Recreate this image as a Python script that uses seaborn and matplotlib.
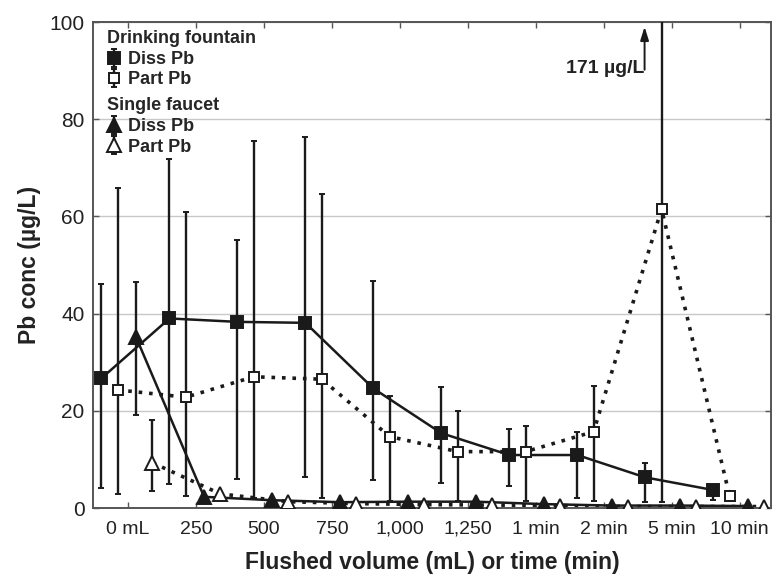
import numpy as np
import matplotlib
matplotlib.use("Agg")
import matplotlib.pyplot as plt
import seaborn as sns

# Flushing stages on the x axis
categories = ["0 mL", "250", "500", "750", "1,000", "1,250", "1 min", "2 min", "5 min", "10 min"]

# Drinking fountain, dissolved Pb (µg/L): mean, lower and upper bound
fountain_diss = [26.7, 39.0, 38.3, 38.1, 24.6, 15.4, 10.9, 10.9, 6.3, 3.7]
fountain_diss_lo = [4.2, 5.0, 6.0, 6.4, 5.8, 5.2, 4.5, 2.0, 1.3, 1.6]
fountain_diss_hi = [46.0, 71.8, 55.1, 76.3, 46.8, 25.0, 16.3, 15.7, 9.2, 4.6]

# Drinking fountain, particulate Pb (µg/L)
fountain_part = [24.3, 22.8, 27.0, 26.5, 14.7, 11.6, 11.6, 15.7, 61.5, 2.5]
fountain_part_lo = [2.9, 2.5, 2.0, 2.0, 1.5, 1.5, 1.5, 1.5, 1.3, 1.7]
fountain_part_hi = [65.8, 60.9, 75.5, 64.6, 23.1, 20.0, 16.9, 25.1, 171.0, 3.6]

# Single faucet, dissolved Pb (µg/L)
faucet_diss = [35.1, 2.3, 1.6, 1.2, 1.3, 1.3, 0.8, 0.5, 0.5, 0.4]
faucet_diss_lo = [19.1, 2.3, 1.6, 1.2, 1.3, 1.3, 0.8, 0.5, 0.5, 0.4]
faucet_diss_hi = [46.4, 2.3, 1.6, 1.2, 1.3, 1.3, 0.8, 0.5, 0.5, 0.4]

# Single faucet, particulate Pb (µg/L)
faucet_part = [9.3, 2.9, 1.3, 0.9, 0.7, 0.6, 0.5, 0.3, 0.3, 0.3]
faucet_part_lo = [3.4, 2.9, 1.3, 0.9, 0.7, 0.6, 0.5, 0.3, 0.3, 0.3]
faucet_part_hi = [18.1, 2.9, 1.3, 0.9, 0.7, 0.6, 0.5, 0.3, 0.3, 0.3]

off_label = "171 µg/L"

sns.set_style("ticks")
plt.rcParams["font.family"] = ["Liberation Sans", "DejaVu Sans"]

INK = "#1a1a1a"
TXT = "#222222"
fig = plt.figure(figsize=(7.74, 5.78), dpi=100)
ax = fig.add_axes([93 / 774, 70 / 578, 678 / 774, 486 / 578])

x = np.arange(len(categories))
dotted = (0, (1.0, 1.9))

series = [
    dict(y=fountain_diss, lo=fountain_diss_lo, hi=fountain_diss_hi, off=-0.39,
         marker="s", ms=9, mfc=INK, ls="-"),
    dict(y=fountain_part, lo=fountain_part_lo, hi=fountain_part_hi, off=-0.15,
         marker="s", ms=7.5, mfc="white", ls=dotted),
    dict(y=faucet_diss, lo=faucet_diss_lo, hi=faucet_diss_hi, off=0.12,
         marker="^", ms=10, mfc=INK, ls="-"),
    dict(y=faucet_part, lo=faucet_part_lo, hi=faucet_part_hi, off=0.36,
         marker="^", ms=10, mfc="white", ls=dotted),
]

containers = []
for s in series:
    xs = x + s["off"]
    y = np.array(s["y"])
    lw = 1.8 if s["ls"] == "-" else 2.6
    sns.lineplot(x=xs, y=y, ax=ax, color=INK, linewidth=lw, linestyle=s["ls"],
                 sort=False, legend=False, zorder=2)
    yerr = [y - np.array(s["lo"]), np.array(s["hi"]) - y]
    c = ax.errorbar(xs, y, yerr=yerr, fmt=s["marker"], ms=s["ms"], mfc=s["mfc"],
                    mec=INK, mew=1.4, ecolor=INK, elinewidth=1.7, capsize=2.5,
                    capthick=1.7, ls="none", zorder=3)
    containers.append(c)

ax.set_xlim(-0.515, 9.46)
ax.set_ylim(0, 100)
ax.set_xticks(x)
ax.set_xticklabels(categories)
ax.set_yticks(np.arange(0, 101, 20))

ax.yaxis.grid(True, color="#c8c8c8", lw=1)
ax.set_axisbelow(True)
for sp in ax.spines.values():
    sp.set_color("#555555")
    sp.set_linewidth(1.4)
ax.tick_params(direction="in", length=4, width=1, color="#555555",
               top=True, right=True, labelcolor=TXT)
ax.tick_params(axis="y", labelsize=15, pad=6)
ax.tick_params(axis="x", labelsize=14, pad=9)

ax.set_xlabel("Flushed volume (mL) or time (min)", fontsize=16.5,
              fontweight="bold", color=TXT, labelpad=10)
ax.set_ylabel("Pb conc (µg/L)", fontsize=16.5, fontweight="bold",
              color=TXT, labelpad=6)

# Off-scale maximum of the 5 min particulate sample
ax.annotate("", xy=(7.6, 99.6), xytext=(7.6, 89.6),
            arrowprops=dict(arrowstyle="-|>,head_length=0.8,head_width=0.25",
                            lw=1.4, color=INK))
ax.text(7.6, 89.6, off_label, ha="right", va="baseline", fontsize=14,
        fontweight="bold", color=TXT)

leg_kw = dict(loc="upper left", frameon=False, alignment="left",
              prop={"weight": "bold", "size": 13},
              title_fontproperties={"weight": "bold", "size": 13},
              handlelength=0.8, handletextpad=0.4, labelspacing=0.2,
              borderpad=0, borderaxespad=0)
leg1 = ax.legend(handles=containers[:2], labels=["Diss Pb", "Part Pb"],
                 title="Drinking fountain", bbox_to_anchor=(0.02, 0.983), **leg_kw)
ax.add_artist(leg1)
ax.legend(handles=containers[2:], labels=["Diss Pb", "Part Pb"],
          title="Single faucet", bbox_to_anchor=(0.02, 0.845), **leg_kw)

fig.savefig("out.png", dpi=100)
